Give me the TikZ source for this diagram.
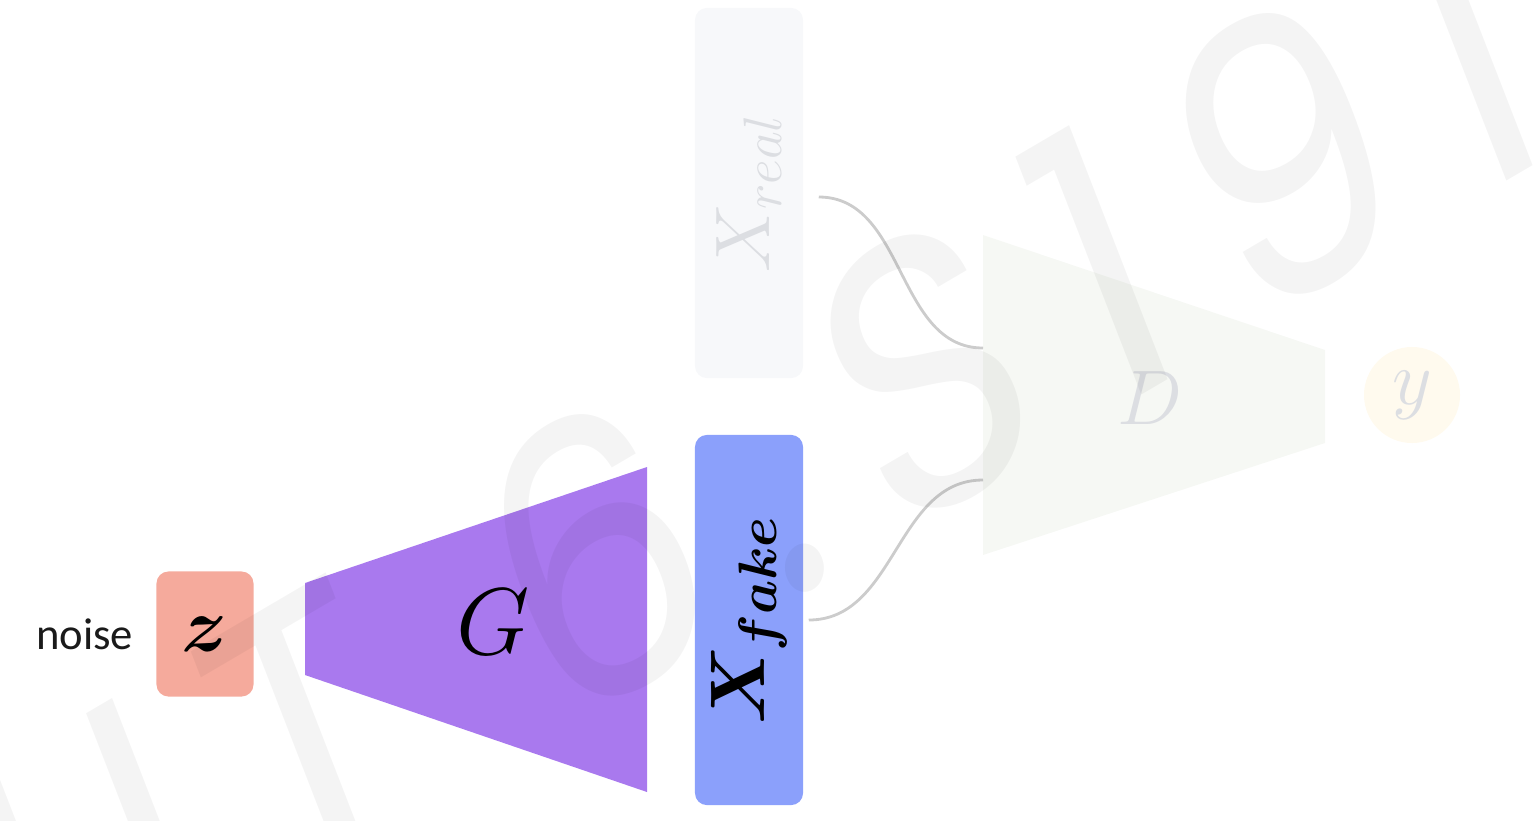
\RequirePackage{fix-cm}
\documentclass[tikz,border=0pt]{standalone}
\usepackage{amsmath}
\usepackage{fontspec}
\usetikzlibrary{positioning,calc}
\newfontfamily\rotulo{Carlito}
\newfontfamily\sello{Poppins}[LetterSpace=16.4]
\definecolor{tinta}{HTML}{1A1A1A}
\definecolor{salmon}{HTML}{F5AA9C}
\definecolor{lila}{HTML}{A979EE}
\definecolor{azul}{HTML}{8BA0FB}
\definecolor{niebla}{HTML}{F7F8FA}
\definecolor{hueso}{HTML}{F6F8F4}
\definecolor{crema}{HTML}{FFFAEE}
\definecolor{tenue}{HTML}{DCDEE2}
\definecolor{gris}{HTML}{CCCCCC}

\begin{document}
\begin{tikzpicture}[x=0.01cm, y=0.01cm,
    caja/.style={rounded corners=0.12cm, inner sep=0pt, minimum width=1.08cm, minimum height=3.7cm},
    cable/.style={gris, line width=0.8pt}]
        \useasboundingbox (0,0) rectangle (1537,820);
        % generador
        \node[caja, fill=salmon, minimum width=0.97cm, minimum height=1.25cm] (z) at (205,186)
          {\fontsize{22}{24}\selectfont$\boldsymbol{z}$};
        \node[left=0.22cm of z, inner sep=0pt, color=tinta] (noise) {\rotulo\fontsize{12.7}{15}\selectfont noise};
        \fill[lila] (305,237) -- (647,353) -- (647,28) -- (305,145) -- cycle;
        \node (G) at (493,198) {\fontsize{27}{30}\selectfont$G$};
        \node[caja, fill=azul] (xfake) at (749,200)
          {\rotatebox{90}{\fontsize{22}{24}\selectfont$\boldsymbol{X_{fake}}$}};
        \node[caja, fill=niebla] (xreal) at (749,627)
          {\rotatebox{90}{\fontsize{22}{24}\selectfont\color{tenue}$X_{real}$}};
        % discriminador
        \fill[hueso] (983,585) -- (1325,470) -- (1325,377) -- (983,265) -- cycle;
        \node[text=tenue] (D) at (1150,422) {\fontsize{22}{24}\selectfont$D$};
        \node[circle, fill=crema, minimum size=0.96cm, inner sep=0pt, text=tenue] (y) at (1412,425)
          {\fontsize{22}{24}\selectfont$y$};
        \coordinate (Dreal) at (983,472);
        \coordinate (Dfake) at (983,340);
        \draw[cable] ([xshift=0.15cm,yshift=-0.04cm]xreal.east) to[out=0,in=180] (Dreal);
        \draw[cable] ([xshift=0.05cm]xfake.east) to[out=0,in=180] (Dfake);
        % marca de agua
        \begin{scope}[yscale=1.23]
          \node[transform shape, rotate=25.5, anchor=base west, inner sep=0pt, text=black, opacity=0.045]
            (marca) at (-134,-263) {\sello\fontsize{90}{90}\selectfont MIT 6.S191};
        \end{scope}
      \end{tikzpicture}
\end{document}
